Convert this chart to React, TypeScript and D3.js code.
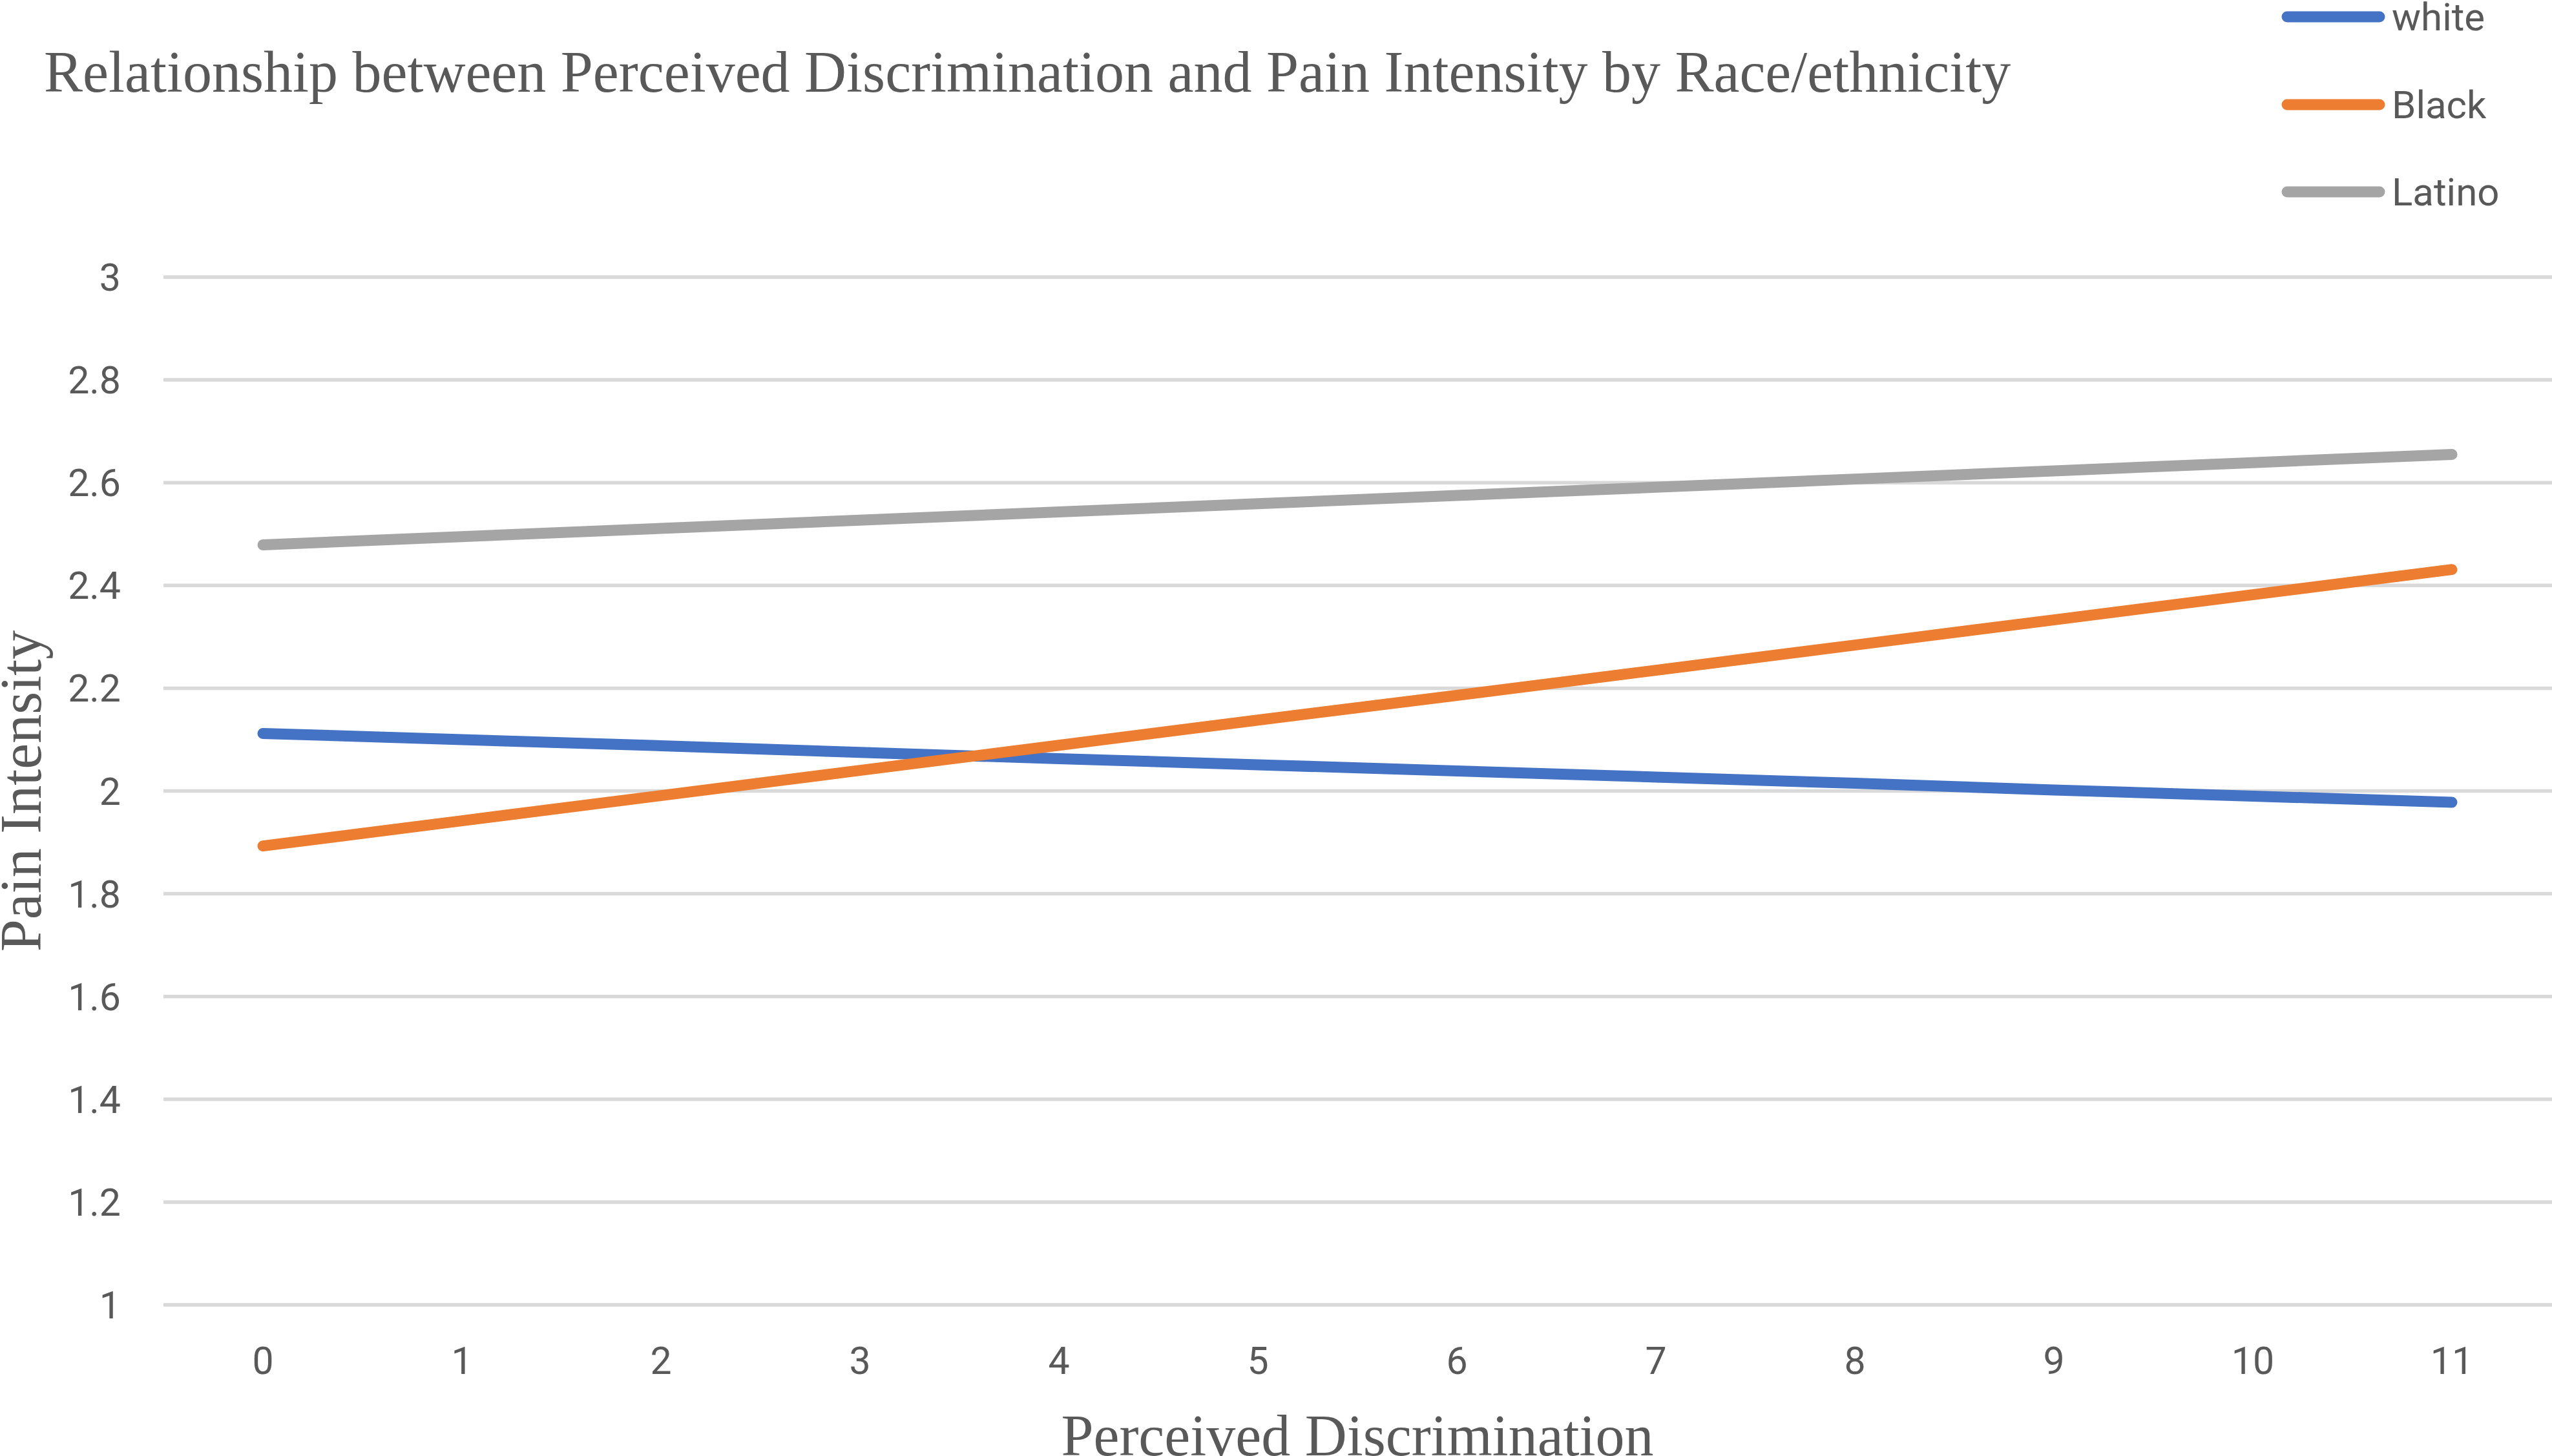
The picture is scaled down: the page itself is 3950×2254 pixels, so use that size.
import * as d3 from 'd3'
import { useMemo } from 'react'

// values
const discrimination = [0, 1, 2, 3, 4, 5, 6, 7, 8, 9, 10, 11]
const whiteValues = [2.112, 2.100, 2.088, 2.075, 2.063, 2.051, 2.039, 2.027, 2.015, 2.002, 1.990, 1.978]
const blackValues = [1.893, 1.942, 1.991, 2.040, 2.089, 2.138, 2.186, 2.235, 2.284, 2.333, 2.382, 2.431]
const latinoValues = [2.479, 2.495, 2.511, 2.527, 2.543, 2.559, 2.575, 2.591, 2.607, 2.623, 2.639, 2.655]
const seriesNames = ['white', 'Black', 'Latino']
const yTicks = [1, 1.2, 1.4, 1.6, 1.8, 2, 2.2, 2.4, 2.6, 2.8, 3]

const colours = ['#4472C4', '#ED7D31', '#A5A5A5']
const textColour = '#595959'
const gridColour = '#D9D9D9'
const serif = '"Liberation Serif", "Times New Roman", serif'
const sans = 'Roboto, "Open Sans", sans-serif'

const App = () => {
    const svgWidth = 3950
    const svgHeight = 2254
    const plot = { left: 253, right: 3949, top: 429, bottom: 2020 }

    const series = [whiteValues, blackValues, latinoValues]

    const x = useMemo(() => {
        return d3
            .scalePoint<number>()
            .domain(discrimination)
            .range([plot.left, plot.right])
            .padding(0.5)
    }, [])

    const y = useMemo(() => {
        return d3
            .scaleLinear()
            .domain([1, 3])
            .range([plot.bottom, plot.top])
    }, [])

    const line = d3
        .line<number>()
        .x((_, i) => x(discrimination[i]) as number)
        .y(d => y(d))

    const grid = yTicks.map((t, i) => (
        <g key={i}>
            <line
                x1={plot.left}
                x2={svgWidth}
                y1={y(t)}
                y2={y(t)}
                stroke={gridColour}
                strokeWidth={5.5}
            />
            <text
                x={187}
                y={y(t) + 21}
                textAnchor="end"
                fill={textColour}
                fontFamily={sans}
                fontSize={59}
            >
                {d3.format('~g')(t)}
            </text>
        </g>
    ))

    const xLabels = discrimination.map((d, i) => (
        <text
            key={i}
            x={x(d)}
            y={2127}
            textAnchor="middle"
            fill={textColour}
            fontFamily={sans}
            fontSize={59}
        >
            {d}
        </text>
    ))

    const lines = series.map((values, i) => (
        <path
            key={i}
            d={line(values) ?? ''}
            fill="none"
            stroke={colours[i]}
            strokeWidth={17}
            strokeLinecap="round"
            strokeLinejoin="round"
        />
    ))

    const legendY = [26, 162, 297]
    const legend = seriesNames.map((name, i) => (
        <g key={name}>
            <line
                x1={3540}
                x2={3683}
                y1={legendY[i]}
                y2={legendY[i]}
                stroke={colours[i]}
                strokeWidth={17}
                strokeLinecap="round"
            />
            <text
                x={3702}
                y={legendY[i] + 21}
                fill={textColour}
                fontFamily={sans}
                fontSize={60}
            >
                {name}
            </text>
        </g>
    ))

    return (
        <svg
            width={svgWidth}
            height={svgHeight}
            style={{ position: 'absolute', left: 0, top: 0, display: 'block', background: '#fff' }}
        >
            <rect width={svgWidth} height={svgHeight} fill="#fff" />
            <text x={68} y={142} fill={textColour} fontFamily={serif} fontSize={90}>
                Relationship between Perceived Discrimination and Pain Intensity by Race/ethnicity
            </text>
            {grid}
            {xLabels}
            {lines}
            {legend}
            <text
                x={(plot.left + plot.right) / 2}
                y={2253}
                textAnchor="middle"
                fill={textColour}
                fontFamily={serif}
                fontSize={90}
            >
                Perceived Discrimination
            </text>
            <text
                transform={`translate(63, ${(plot.top + plot.bottom) / 2}) rotate(-90)`}
                textAnchor="middle"
                fill={textColour}
                fontFamily={serif}
                fontSize={90}
            >
                Pain Intensity
            </text>
        </svg>
    )
}

export default App
